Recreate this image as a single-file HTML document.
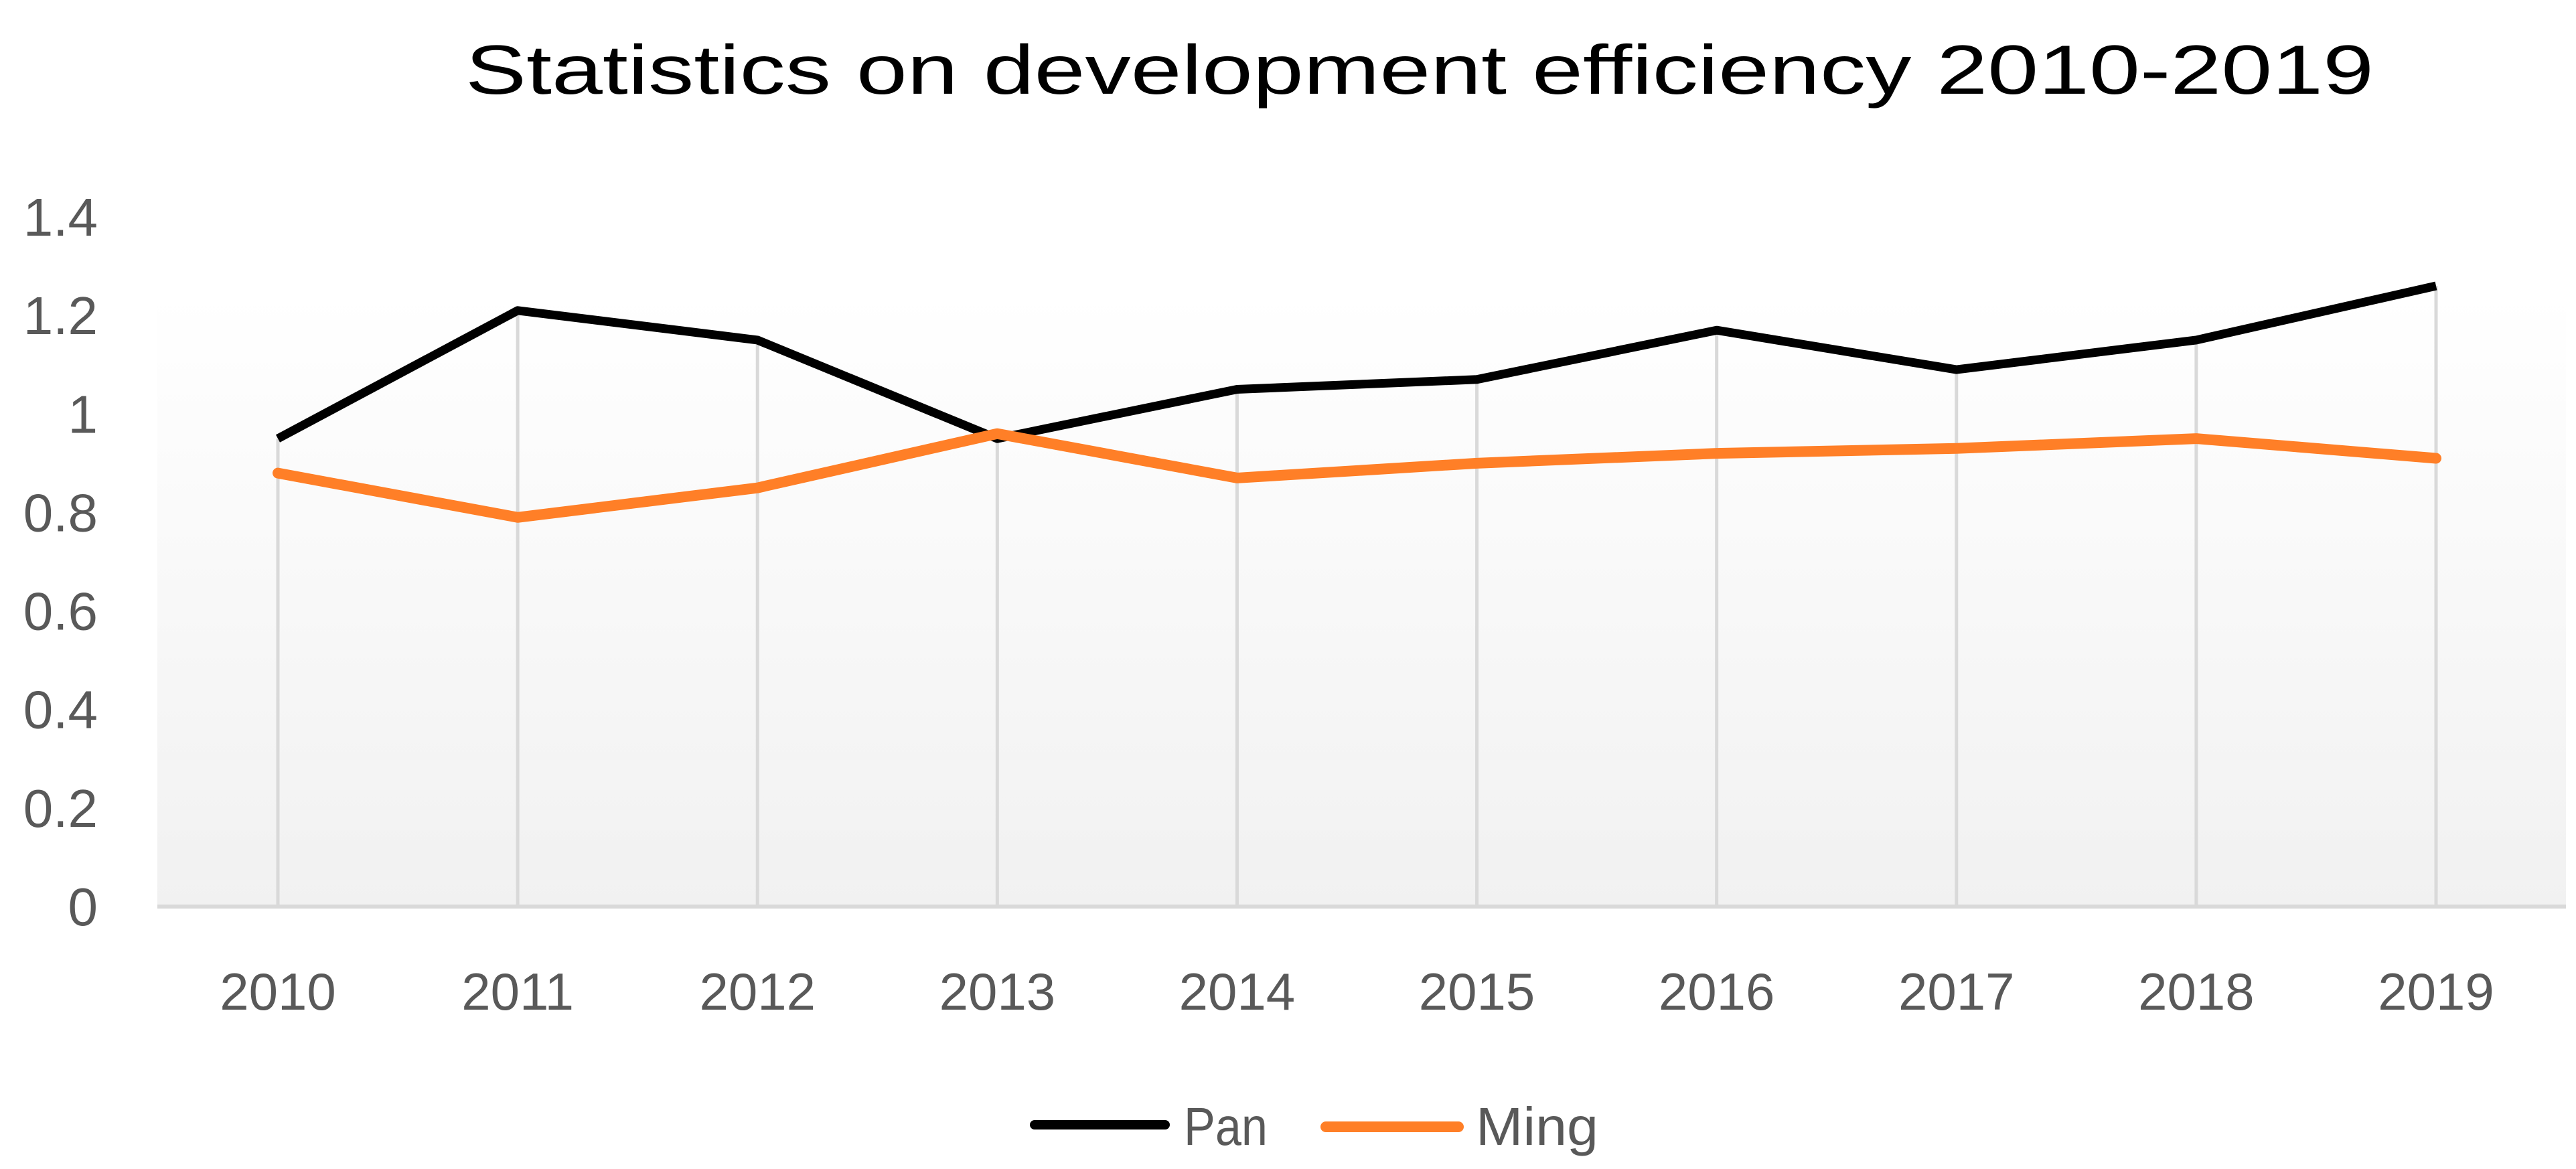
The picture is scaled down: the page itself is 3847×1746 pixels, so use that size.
<!DOCTYPE html>
<html><head><meta charset="utf-8"><style>
html,body{margin:0;padding:0;background:#fff;}
svg{display:block;}
text{font-family:"Liberation Sans",sans-serif;}
</style></head><body>
<svg id="chart" width="3847" height="1746" viewBox="0 0 3847 1746" xmlns="http://www.w3.org/2000/svg">
<defs>
<linearGradient id="bg" x1="0" y1="0" x2="0" y2="1">
<stop offset="0" stop-color="#ffffff"/><stop offset="1" stop-color="#f1f1f1"/>
</linearGradient>
</defs>
<rect x="235" y="440" width="3597" height="914" fill="url(#bg)"/>
<text x="2120" y="140" font-size="104" fill="#000" text-anchor="middle" textLength="2850" lengthAdjust="spacingAndGlyphs">Statistics on development efficiency 2010-2019</text>
<g id="grid"></g><g id="yticks"></g><g id="xticks"></g><g id="series"></g>
<g>
<line x1="1545" y1="1680" x2="1740" y2="1680" stroke="#000" stroke-width="14" stroke-linecap="round"/>
<text x="1768" y="1710" font-size="80" fill="#595959" textLength="125" lengthAdjust="spacingAndGlyphs">Pan</text>
<line x1="1980" y1="1683" x2="2178" y2="1683" stroke="#ff7f27" stroke-width="16" stroke-linecap="round"/>
<text x="2204" y="1710" font-size="80" fill="#595959" textLength="183" lengthAdjust="spacingAndGlyphs">Ming</text>
</g>
</svg>
<script>
const categories = ["2010","2011","2012","2013","2014","2015","2016","2017","2018","2019"];
const panValues = [0.95,1.21,1.15,0.95,1.05,1.07,1.17,1.09,1.15,1.26];
const mingValues = [0.88,0.79,0.85,0.96,0.87,0.90,0.92,0.93,0.95,0.91];
const yTickValues = [0,0.2,0.4,0.6,0.8,1,1.2,1.4];
const yTickLabels = ["0","0.2","0.4","0.6","0.8","1","1.2","1.4"];

const NS="http://www.w3.org/2000/svg";
function xScale(i){return 415+i*(3638-415)/(categories.length-1);}
function yScale(v){return 1354-v*(1354-324)/1.4;}
function mk(tag,attrs,parent){const e=document.createElementNS(NS,tag);for(const k in attrs)e.setAttribute(k,attrs[k]);parent.appendChild(e);return e;}
const grid=document.getElementById('grid'),yt=document.getElementById('yticks'),xt=document.getElementById('xticks'),ser=document.getElementById('series');
categories.forEach((c,i)=>{
  const g=mk('line',{x1:xScale(i),x2:xScale(i),y1:yScale(Math.max(panValues[i],mingValues[i])),y2:yScale(0),stroke:'#d9d9d9','stroke-width':5},grid);
  
  
  const t=mk('text',{x:xScale(i),y:1508,'font-size':78,fill:'#595959','text-anchor':'middle'},xt);
  t.textContent=c;
  
  
});
const ax=mk('line',{x1:235,x2:3832,y1:yScale(0),y2:yScale(0),stroke:'#d9d9d9',"stroke-width":6},grid);


yTickValues.forEach((v,i)=>{
  const t=mk('text',{x:146,y:yScale(v)+28,'font-size':80,fill:'#595959','text-anchor':'end'},yt);
  t.textContent=yTickLabels[i];
  
  
});
function pts(vals){return vals.map((v,i)=>xScale(i)+','+yScale(v)).join(' ');}
const pan=mk('polyline',{points:pts(panValues),fill:'none',stroke:'#000','stroke-width':13,'stroke-linejoin':'round'},ser);


const ming=mk('polyline',{points:pts(mingValues),fill:'none',stroke:'#ff7f27','stroke-width':16,'stroke-linejoin':'round','stroke-linecap':'round'},ser);


</script>
</body></html>
